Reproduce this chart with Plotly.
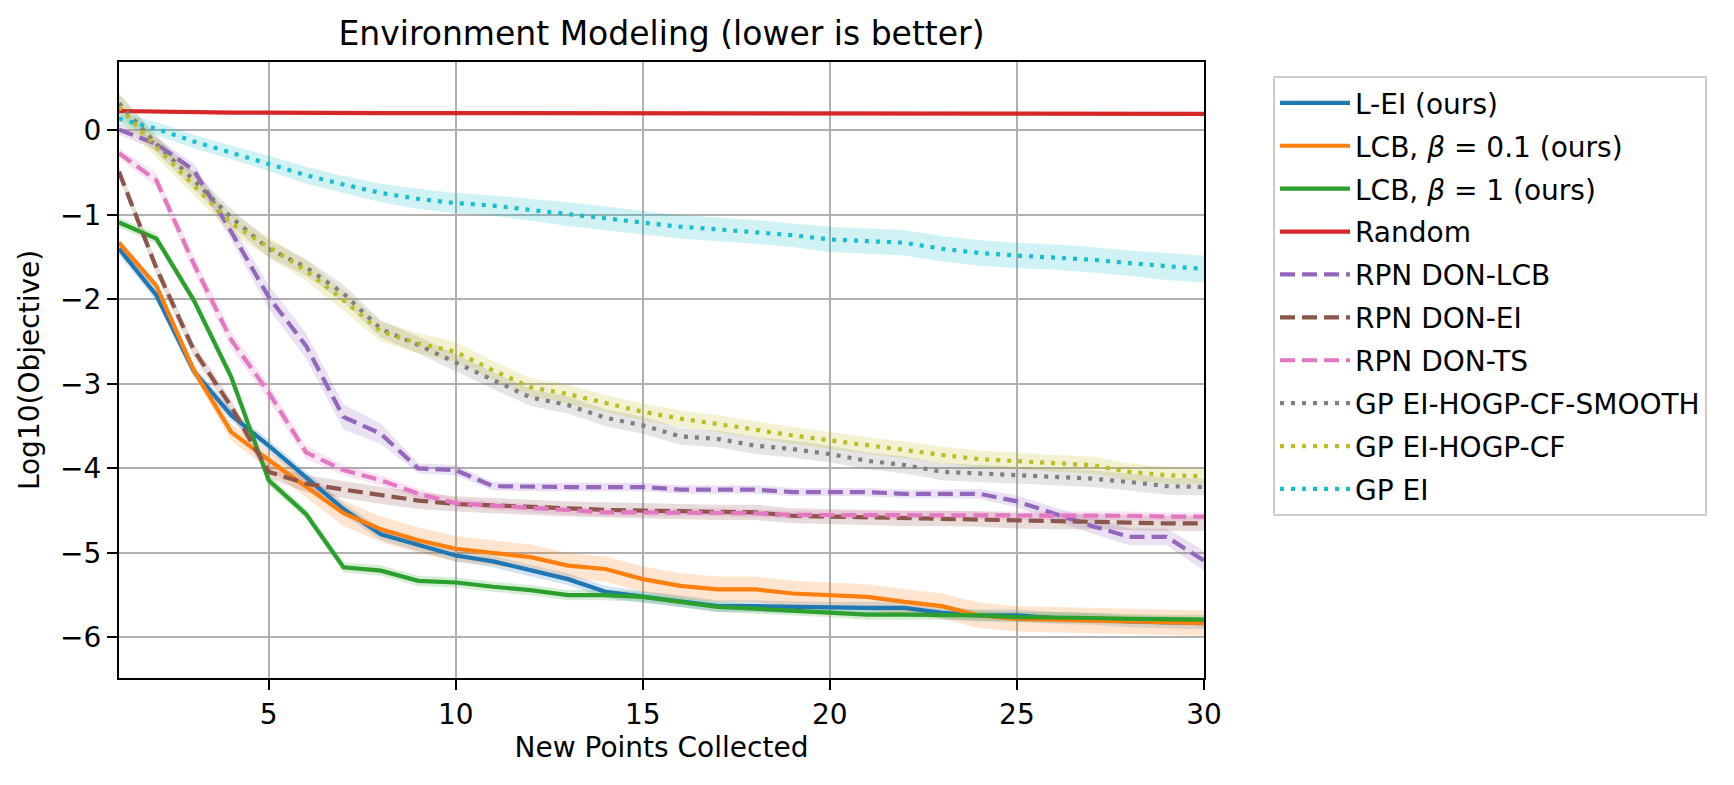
import plotly.graph_objects as go

x = list(range(1, 31))

names = ["L-EI (ours)", "LCB, <i>β</i> = 0.1 (ours)", "LCB, <i>β</i> = 1 (ours)", "Random",
         "RPN DON-LCB", "RPN DON-EI", "RPN DON-TS", "GP EI-HOGP-CF-SMOOTH", "GP EI-HOGP-CF", "GP EI"]

lei = [-1.40, -1.95, -2.85, -3.37, -3.73, -4.10, -4.48, -4.78, -4.91, -5.03, -5.10, -5.21, -5.31, -5.46, -5.52,
       -5.57, -5.63, -5.63, -5.64, -5.65, -5.65, -5.65, -5.71, -5.74, -5.74, -5.77, -5.78, -5.81, -5.82, -5.83]
lei_sd = [0.07] * 30

lcb01 = [-1.33, -1.84, -2.84, -3.57, -3.90, -4.22, -4.53, -4.72, -4.85, -4.95, -5.00, -5.05, -5.15, -5.19, -5.31,
         -5.39, -5.43, -5.43, -5.48, -5.50, -5.52, -5.58, -5.63, -5.74, -5.78, -5.79, -5.80, -5.81, -5.82, -5.83]
lcb01_sd = [0.05, 0.05, 0.06, 0.1, 0.1, 0.12, 0.15, 0.15, 0.15, 0.15, 0.15, 0.15, 0.15, 0.15, 0.15,
            0.15, 0.15, 0.15, 0.15, 0.15, 0.15, 0.15, 0.15, 0.15, 0.15, 0.15, 0.15, 0.15, 0.15, 0.15]

lcb1 = [-1.09, -1.28, -2.01, -2.92, -4.14, -4.54, -5.17, -5.21, -5.33, -5.35, -5.40, -5.44, -5.50, -5.50, -5.52,
        -5.58, -5.64, -5.66, -5.68, -5.70, -5.73, -5.73, -5.73, -5.74, -5.76, -5.76, -5.77, -5.78, -5.79, -5.79]
lcb1_sd = [0.06] * 30

rand = [0.23, 0.22, 0.215, 0.21, 0.21, 0.205, 0.205, 0.205, 0.205, 0.205, 0.20, 0.20, 0.20, 0.20, 0.20,
        0.20, 0.20, 0.20, 0.20, 0.20, 0.198, 0.198, 0.198, 0.198, 0.198, 0.197, 0.197, 0.197, 0.197, 0.197]
rand_sd = [0.02] * 30

don_lcb = [0.01, -0.16, -0.47, -1.20, -1.97, -2.55, -3.39, -3.59, -4.00, -4.02, -4.21, -4.22, -4.22, -4.22, -4.22,
           -4.25, -4.25, -4.25, -4.28, -4.28, -4.28, -4.30, -4.30, -4.30, -4.39, -4.54, -4.68, -4.81, -4.81, -5.09]
don_lcb_sd = [0.06, 0.07, 0.08, 0.1, 0.14, 0.15, 0.15, 0.12, 0.06, 0.06, 0.05, 0.05, 0.05, 0.05, 0.05,
              0.05, 0.05, 0.05, 0.05, 0.05, 0.05, 0.05, 0.05, 0.06, 0.07, 0.08, 0.09, 0.1, 0.1, 0.12]

don_ei = [-0.49, -1.63, -2.60, -3.27, -4.04, -4.18, -4.25, -4.32, -4.38, -4.42, -4.44, -4.46, -4.48, -4.49, -4.50,
          -4.51, -4.52, -4.52, -4.56, -4.57, -4.58, -4.59, -4.59, -4.60, -4.62, -4.63, -4.63, -4.64, -4.65, -4.65]
don_ei_sd = [0.06, 0.08, 0.08, 0.08, 0.08, 0.1, 0.1, 0.1, 0.1, 0.09, 0.09, 0.09, 0.09, 0.09, 0.09,
             0.09, 0.09, 0.09, 0.09, 0.09, 0.09, 0.09, 0.09, 0.09, 0.09, 0.09, 0.09, 0.09, 0.09, 0.09]

don_ts = [-0.27, -0.59, -1.58, -2.48, -3.10, -3.81, -4.02, -4.14, -4.30, -4.41, -4.44, -4.47, -4.50, -4.52, -4.52,
          -4.52, -4.52, -4.53, -4.55, -4.55, -4.55, -4.55, -4.55, -4.55, -4.56, -4.56, -4.56, -4.56, -4.57, -4.57]
don_ts_sd = [0.06, 0.08, 0.1, 0.1, 0.1, 0.08, 0.06, 0.06, 0.06, 0.05, 0.05, 0.05, 0.05, 0.05, 0.05,
             0.05, 0.05, 0.05, 0.05, 0.05, 0.05, 0.05, 0.05, 0.05, 0.05, 0.05, 0.05, 0.05, 0.05, 0.05]

hogp_smooth = [0.32, -0.16, -0.59, -1.03, -1.40, -1.62, -1.93, -2.35, -2.54, -2.75, -2.96, -3.16, -3.25, -3.40, -3.49,
               -3.62, -3.65, -3.73, -3.77, -3.83, -3.91, -3.96, -4.04, -4.06, -4.08, -4.10, -4.12, -4.16, -4.21, -4.22]
hogp_smooth_sd = [0.12, 0.1, 0.1, 0.1, 0.1, 0.1, 0.1, 0.1, 0.1, 0.1, 0.1, 0.1, 0.1, 0.1, 0.1,
                  0.1, 0.1, 0.1, 0.1, 0.1, 0.1, 0.1, 0.1, 0.1, 0.1, 0.1, 0.1, 0.1, 0.1, 0.1]

hogp = [0.28, -0.20, -0.65, -1.10, -1.38, -1.66, -2.01, -2.38, -2.52, -2.62, -2.84, -3.04, -3.12, -3.23, -3.33,
        -3.41, -3.47, -3.54, -3.61, -3.67, -3.73, -3.78, -3.84, -3.89, -3.91, -3.94, -3.96, -4.04, -4.08, -4.09]
hogp_sd = [0.15, 0.12, 0.12, 0.12, 0.12, 0.12, 0.12, 0.12, 0.12, 0.12, 0.11, 0.11, 0.11, 0.1, 0.1,
           0.1, 0.1, 0.1, 0.1, 0.1, 0.1, 0.1, 0.1, 0.1, 0.1, 0.1, 0.1, 0.1, 0.1, 0.1]

gp_ei = [0.14, 0.02, -0.13, -0.26, -0.39, -0.53, -0.64, -0.74, -0.81, -0.86, -0.89, -0.94, -0.99, -1.04, -1.09,
         -1.14, -1.17, -1.20, -1.24, -1.29, -1.31, -1.33, -1.40, -1.45, -1.48, -1.50, -1.53, -1.57, -1.61, -1.64]
gp_ei_sd = [0.08, 0.08, 0.08, 0.08, 0.09, 0.1, 0.1, 0.11, 0.12, 0.12, 0.12, 0.13, 0.14, 0.14, 0.14,
            0.14, 0.14, 0.14, 0.14, 0.15, 0.15, 0.15, 0.15, 0.15, 0.15, 0.15, 0.15, 0.15, 0.16, 0.16]

y_ticks = [-6, -5, -4, -3, -2, -1, 0]
y_ticktext = ["−6", "−5", "−4", "−3", "−2", "−1", "0"]
x_ticks = [5, 10, 15, 20, 25, 30]

series = [lei, lcb01, lcb1, rand, don_lcb, don_ei, don_ts, hogp_smooth, hogp, gp_ei]
sds = [lei_sd, lcb01_sd, lcb1_sd, rand_sd, don_lcb_sd, don_ei_sd, don_ts_sd, hogp_smooth_sd, hogp_sd, gp_ei_sd]
colors = ["#1f77b4", "#ff7f0e", "#2ca02c", "#d62728", "#9467bd", "#8c564b", "#e377c2", "#7f7f7f", "#bcbd22", "#17becf"]
dashes = ["solid", "solid", "solid", "solid", "15px,7px", "15px,7px", "15px,7px", "4px,7px", "4px,7px", "4px,7px"]


def rgba(h, a):
    h = h.lstrip("#")
    return "rgba(%d,%d,%d,%s)" % (int(h[0:2], 16), int(h[2:4], 16), int(h[4:6], 16), a)


fig = go.Figure()
for s, sd, c in zip(series, sds, colors):
    up = [m + d for m, d in zip(s, sd)]
    lo = [m - d for m, d in zip(s, sd)]
    fig.add_trace(go.Scatter(x=x + x[::-1], y=up + lo[::-1], fill="toself", mode="lines",
                             line=dict(width=0), fillcolor=rgba(c, 0.2), showlegend=False, hoverinfo="skip"))
for i, (s, n, c, d) in enumerate(zip(series, names, colors, dashes)):
    fig.add_trace(go.Scatter(x=x, y=s, name=n, mode="lines", legendgroup="g%d" % i,
                             line=dict(color=c, width=4.2, dash=d)))

font = "DejaVu Sans"
W, H = 1726, 777  # page body adds an 8px offset
fig.update_layout(
    width=W, height=H,
    margin=dict(l=111, r=530, t=54, b=107),
    paper_bgcolor="white", plot_bgcolor="white",
    font=dict(family=font, size=28, color="black"),
    title=dict(text="Environment Modeling (lower is better)", x=653.5 / W, xanchor="center",
               y=1 - 25 / H, yanchor="middle", yref="container", font=dict(size=33, family=font)),
    legend=dict(x=1.0636, y=0.977, xanchor="left", yanchor="top", bordercolor="#cccccc", borderwidth=2,
                bgcolor="white", font=dict(size=28, family=font), traceorder="grouped", tracegroupgap=3.5,
                itemwidth=70),
    showlegend=True,
)
fig.update_xaxes(range=[1, 30], tickvals=x_ticks, ticks="outside", ticklen=10, tickwidth=2.2, tickcolor="black",
                 showgrid=True, gridcolor="#b0b0b0", gridwidth=2.2, showline=True, linecolor="black", linewidth=2.2,
                 mirror=True, zeroline=False, tickfont=dict(size=28, family=font),
                 title=dict(text="New Points Collected", font=dict(size=28, family=font), standoff=8))
fig.update_yaxes(range=[-6.48, 0.81], tickvals=y_ticks, ticktext=y_ticktext, ticks="outside", ticklen=10,
                 tickwidth=2.2, tickcolor="black", showgrid=True, gridcolor="#b0b0b0", gridwidth=2.2, showline=True,
                 linecolor="black", linewidth=2.2, mirror=True, zeroline=False, tickfont=dict(size=28, family=font),
                 title=dict(text="Log10(Objective)", font=dict(size=28, family=font), standoff=12))

fig.write_html("out.html")
